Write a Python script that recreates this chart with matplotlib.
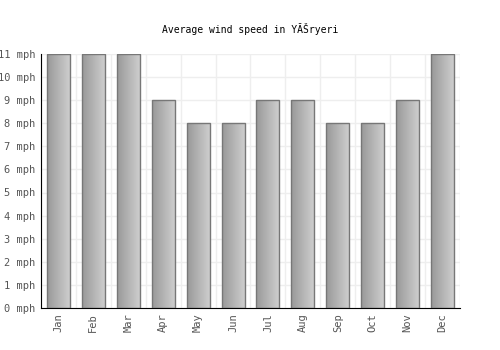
import numpy as np
import matplotlib
matplotlib.use("Agg")
import matplotlib.pyplot as plt
from matplotlib.ticker import FixedLocator

months = ['Jan', 'Feb', 'Mar', 'Apr', 'May', 'Jun', 'Jul', 'Aug', 'Sep', 'Oct', 'Nov', 'Dec']
wind = [11, 11, 11, 9, 8, 8, 9, 9, 8, 8, 9, 11]
yticks = list(range(0, 12))

plt.rcParams['font.family'] = ['DejaVu Sans Mono']

fig = plt.figure(figsize=(5, 3.5), dpi=100)
ax = fig.add_axes([0.082, 0.12, 0.838, 0.726])

x = np.arange(len(months))
bars = ax.bar(x, wind, width=0.66, color='none', edgecolor='#777777', linewidth=1, zorder=3)

grad = np.linspace(0, 1, 64).reshape(1, -1)
cmap = matplotlib.colors.LinearSegmentedColormap.from_list('g', ['#999999', '#d0d0d0'])
for b in bars:
    x0, y0 = b.get_x(), b.get_y()
    w, h = b.get_width(), b.get_height()
    im = ax.imshow(grad, cmap=cmap, aspect='auto', extent=(x0, x0 + w, y0, y0 + h), zorder=2)
    im.set_clip_path(b)

ax.set_xlim(-0.5, len(months) - 0.5)
ax.set_ylim(0, 11)
ax.set_xticks(x)
ax.set_xticklabels(months, rotation=90, fontsize=7.5, color='#555555')
ax.set_yticks(yticks)
ax.set_yticklabels([f'{v} mph' for v in yticks], fontsize=7.5, color='#555555')
ax.xaxis.set_minor_locator(FixedLocator(np.arange(-0.5, len(months), 1)))
ax.grid(True, which='minor', axis='x', color='#eeeeee', linewidth=1, zorder=0)
ax.grid(True, which='major', axis='y', color='#eeeeee', linewidth=1, zorder=0)
ax.tick_params(which='both', length=0, pad=4)

for s in ['top', 'right']:
    ax.spines[s].set_visible(False)
ax.spines['left'].set_color('black')
ax.spines['bottom'].set_color('black')

fig.suptitle('Average wind speed in YĂŠryeri', y=0.935, fontsize=7)

fig.savefig('out.png', dpi=100)
